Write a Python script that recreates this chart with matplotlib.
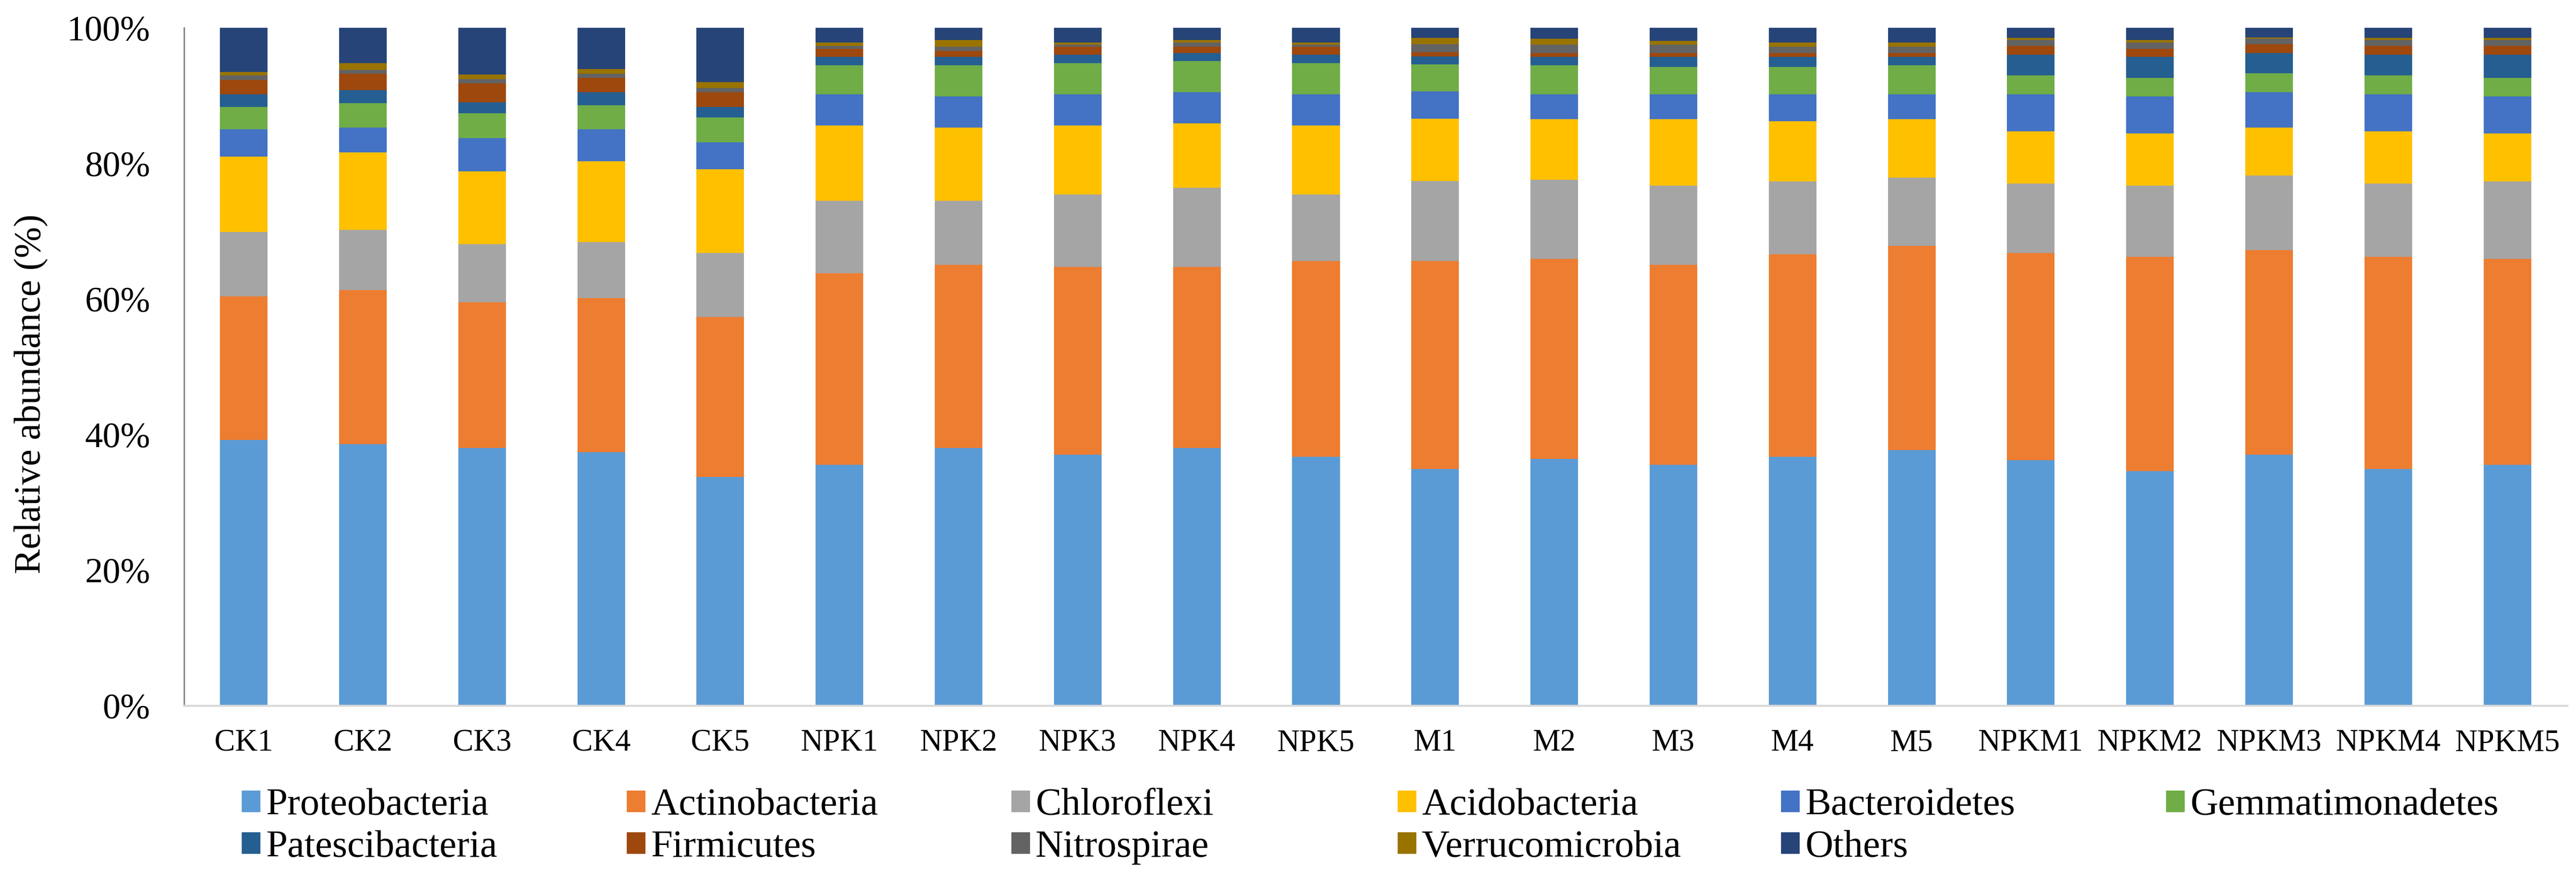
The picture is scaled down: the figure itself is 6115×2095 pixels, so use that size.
import matplotlib
matplotlib.use("Agg")
import matplotlib.pyplot as plt
from matplotlib.patches import Patch

samples = ["CK1", "CK2", "CK3", "CK4", "CK5",
           "NPK1", "NPK2", "NPK3", "NPK4", "NPK5",
           "M1", "M2", "M3", "M4", "M5",
           "NPKM1", "NPKM2", "NPKM3", "NPKM4", "NPKM5"]

# relative abundance (%) of each phylum per sample
proteo = [39.2, 38.6, 38.0, 37.4, 33.7, 35.5, 38.0, 37.0, 38.0, 36.7,
          34.9, 36.4, 35.5, 36.7, 37.7, 36.2, 34.6, 37.0, 34.9, 35.5]
actino = [21.2, 22.7, 21.5, 22.7, 23.6, 28.3, 27.0, 27.7, 26.7, 28.9,
          30.7, 29.5, 29.5, 29.9, 30.1, 30.6, 31.6, 30.2, 31.3, 30.4]
chloro = [9.5, 8.9, 8.6, 8.3, 9.5, 10.7, 9.5, 10.7, 11.7, 9.8,
          11.8, 11.7, 11.7, 10.7, 10.1, 10.2, 10.5, 11.0, 10.8, 11.4]
acido = [11.1, 11.4, 10.7, 11.9, 12.3, 11.1, 10.8, 10.2, 9.5, 10.2,
         9.2, 8.9, 9.8, 8.9, 8.6, 7.7, 7.7, 7.1, 7.7, 7.1]
bactero = [4.0, 3.7, 4.9, 4.7, 4.0, 4.6, 4.6, 4.6, 4.6, 4.6,
           4.0, 3.7, 3.7, 4.0, 3.7, 5.5, 5.5, 5.2, 5.5, 5.5]
gemmat = [3.3, 3.6, 3.7, 3.6, 3.7, 4.3, 4.6, 4.6, 4.6, 4.6,
          4.0, 4.3, 4.0, 4.0, 4.3, 2.8, 2.7, 2.8, 2.8, 2.7]
patesci = [1.9, 1.9, 1.6, 1.9, 1.5, 1.2, 1.2, 1.2, 1.2, 1.2,
           1.2, 1.2, 1.5, 1.5, 1.2, 3.0, 3.1, 3.0, 3.0, 3.4]
firmi = [2.1, 2.4, 2.8, 2.1, 2.2, 1.2, 0.9, 1.2, 0.9, 1.2,
         0.6, 0.6, 0.6, 0.6, 0.6, 1.3, 1.2, 1.3, 1.3, 1.3]
nitro = [0.7, 0.6, 0.6, 0.6, 0.6, 0.4, 0.6, 0.3, 0.6, 0.3,
         1.2, 1.2, 1.2, 0.9, 0.9, 0.9, 0.9, 0.8, 0.9, 0.9]
verruco = [0.5, 1.0, 0.7, 0.7, 0.9, 0.5, 1.0, 0.3, 0.4, 0.3,
           0.9, 0.9, 0.6, 0.6, 0.6, 0.3, 0.4, 0.2, 0.3, 0.3]
others = [6.5, 5.2, 6.9, 6.1, 8.0, 2.2, 1.8, 2.2, 1.8, 2.2,
          1.5, 1.6, 1.9, 2.2, 2.2, 1.5, 1.8, 1.4, 1.5, 1.5]

phyla = ["Proteobacteria", "Actinobacteria", "Chloroflexi", "Acidobacteria",
         "Bacteroidetes", "Gemmatimonadetes", "Patescibacteria", "Firmicutes",
         "Nitrospirae", "Verrucomicrobia", "Others"]
series = [proteo, actino, chloro, acido, bactero, gemmat,
          patesci, firmi, nitro, verruco, others]
colors = ["#5B9BD5", "#ED7D31", "#A5A5A5", "#FFC000", "#4472C4", "#70AD47",
          "#255E91", "#9E480E", "#636363", "#997300", "#264478"]

y_ticks = [0, 20, 40, 60, 80, 100]


def main():
    plt.rcParams["font.family"] = ["Liberation Serif", "DejaVu Serif"]

    fig = plt.figure(figsize=(61.15, 20.95), dpi=100)
    ax = fig.add_axes([0.0715, 0.2, 0.925, 0.7685])

    x = list(range(len(samples)))
    bottom = [0.0] * len(samples)
    for name, vals, col in zip(phyla, series, colors):
        ax.bar(x, vals, width=0.4, bottom=bottom, color=col, label=name, linewidth=0)
        bottom = [b + v for b, v in zip(bottom, vals)]

    ax.set_xlim(-0.5, len(samples) - 0.5)
    ax.set_ylim(0, 100)
    ax.set_yticks(y_ticks)
    ax.set_yticklabels([f"{t}%" for t in y_ticks], fontsize=61)
    ax.set_xticks(x)
    ax.set_xticklabels(samples, fontsize=53)
    ax.tick_params(axis="y", length=0, pad=58)
    ax.tick_params(axis="x", length=0, pad=40)

    ax.spines["top"].set_visible(False)
    ax.spines["right"].set_visible(False)
    ax.spines["left"].set_color("#808080")
    ax.spines["left"].set_linewidth(2.5)
    ax.spines["bottom"].set_color("#D9D9D9")
    ax.spines["bottom"].set_linewidth(3.5)

    ax.set_ylabel("Relative abundance (%)", fontsize=64)
    ax.yaxis.set_label_coords(-0.0573, 0.46)

    # legend: six evenly spaced columns, two rows
    handles = [Patch(color=c) for c in colors]
    col_x = [574, 1488, 2401, 3318, 4228, 5142]
    for j, cx in enumerate(col_x):
        idx = [j, j + 6] if j + 6 < len(phyla) else [j]
        fig.legend([handles[i] for i in idx], [phyla[i] for i in idx],
                   loc="upper left", bbox_to_anchor=(cx / 6115, 1 - 1872 / 2095),
                   frameon=False, fontsize=66, handlelength=0.47, handleheight=0.47,
                   handletextpad=0.15, labelspacing=0.18, borderpad=0, borderaxespad=0)

    fig.savefig("out.png", dpi=100)


if __name__ == "__main__":
    main()
